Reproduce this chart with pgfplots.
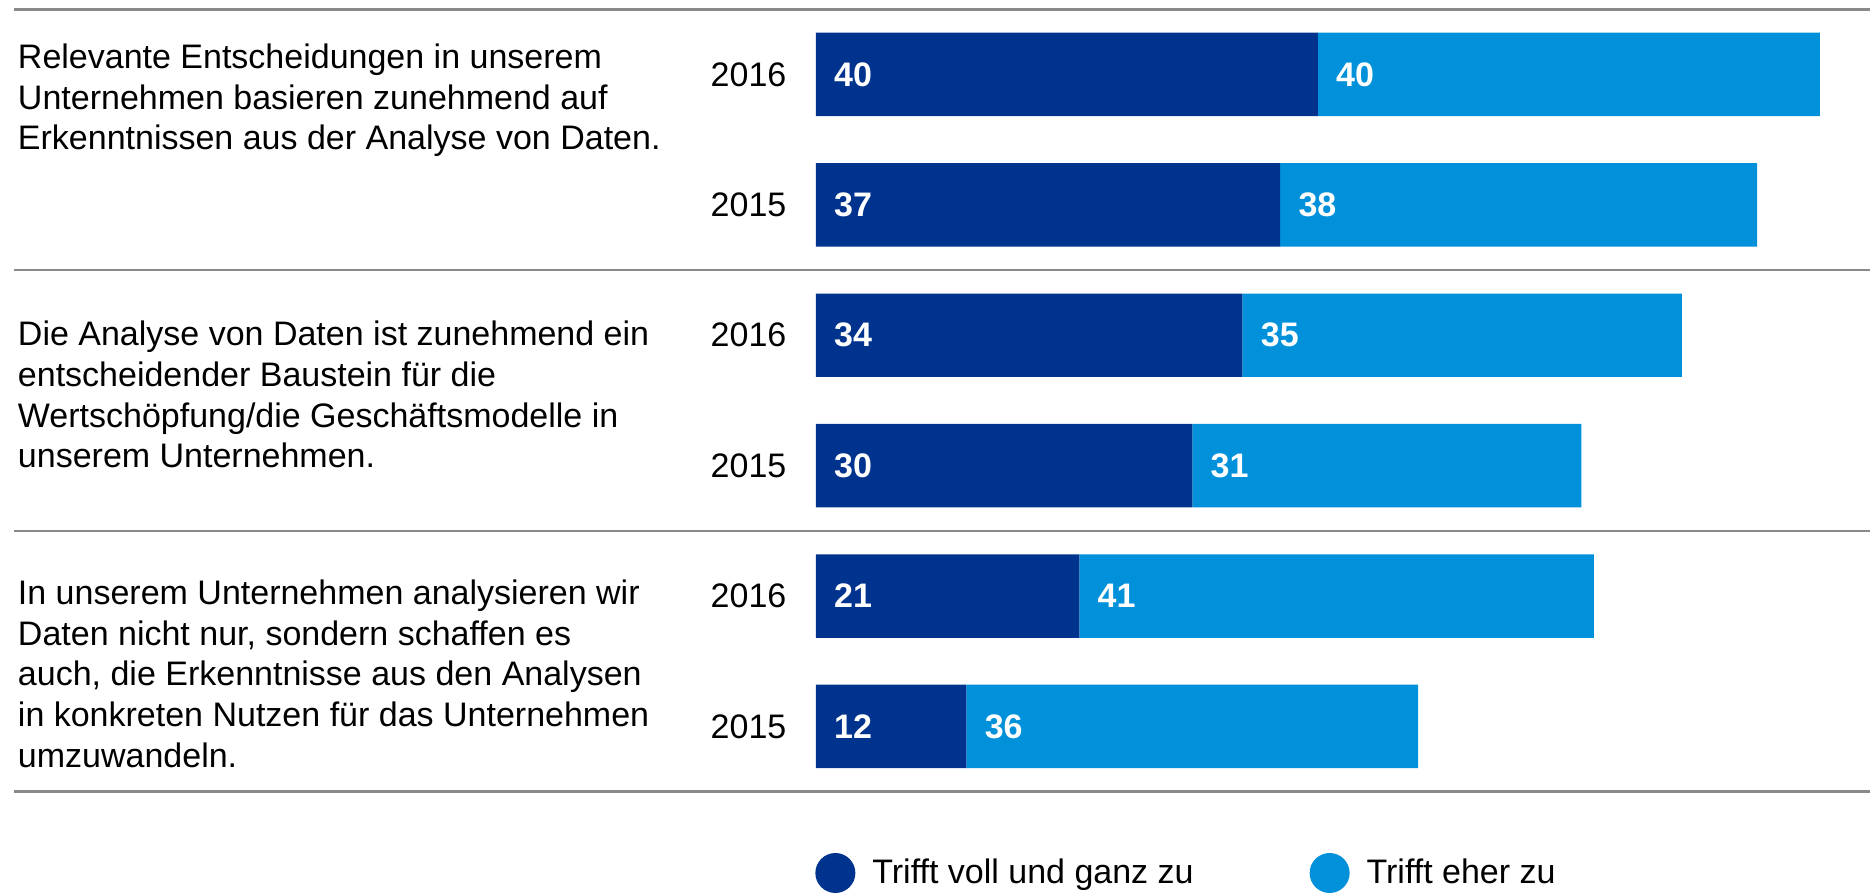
\documentclass[border=0pt]{standalone}
\usepackage{fontspec}
\setmainfont{Liberation Sans}
\usepackage{pgfplots}
\pgfplotsset{compat=1.18}
\definecolor{dkblue}{HTML}{00338D}
\definecolor{ltblue}{HTML}{0091DA}
\definecolor{sepgray}{HTML}{898989}
\tikzset{
  sep/.style={sepgray, line width=1.3pt},
  yr/.style={anchor=east, inner sep=0pt, xshift=-14.5pt},
  val/.style={anchor=west, inner sep=0pt, xshift=9pt, text=white, font=\fontsize{17}{20.3}\selectfont\bfseries},
  cat/.style={anchor=west, align=left, inner sep=0pt},
}
\begin{document}
\begin{tikzpicture}[font=\fontsize{17}{20.3}\selectfont]
\begin{axis}[
  name=ax,
  scale only axis,
  width=935pt, height=447pt,
  xmin=-65, xmax=84,
  ymin=-0.571, ymax=6.285,
  y dir=reverse,
  hide axis,
  clip=false,
  xbar stacked,
  bar width=0.64,
  legend columns=2,
  legend style={at={(0.4358,0.0235)}, anchor=west, draw=none, fill=none,
    inner sep=0pt, font=\fontsize{17}{20.3}\selectfont,
    nodes={inner sep=0pt},
    /tikz/column 1/.style={column sep=8.5pt},
    /tikz/column 2/.style={column sep=58pt},
    /tikz/column 3/.style={column sep=8.5pt}},
  legend image code/.code={\fill[#1] (10pt,0pt) circle (10pt);},
]
\addplot[fill=dkblue, draw=none] coordinates {(40,0) (37,1) (34,2) (30,3) (21,4) (12,5)};
\addlegendentry{Trifft voll und ganz zu}
\addplot[fill=ltblue, draw=none] coordinates {(40,0) (38,1) (35,2) (31,3) (41,4) (36,5)};
\addlegendentry{Trifft eher zu}

% separators
\draw[sep] (axis cs:-63.9,-0.5) -- (axis cs:84,-0.5);
\draw[sep] (axis cs:-63.9,1.5) -- (axis cs:84,1.5);
\draw[sep] (axis cs:-63.9,3.5) -- (axis cs:84,3.5);
\draw[sep] (axis cs:-63.9,5.5) -- (axis cs:84,5.5);
% year labels
\node[yr] at (axis cs:0,0) {2016};
\node[yr] at (axis cs:0,1) {2015};
\node[yr] at (axis cs:0,2) {2016};
\node[yr] at (axis cs:0,3) {2015};
\node[yr] at (axis cs:0,4) {2016};
\node[yr] at (axis cs:0,5) {2015};
% value label anchors
\coordinate (a0) at (axis cs:0,0);  \coordinate (b0) at (axis cs:40,0);
\coordinate (a1) at (axis cs:0,1);  \coordinate (b1) at (axis cs:37,1);
\coordinate (a2) at (axis cs:0,2);  \coordinate (b2) at (axis cs:34,2);
\coordinate (a3) at (axis cs:0,3);  \coordinate (b3) at (axis cs:30,3);
\coordinate (a4) at (axis cs:0,4);  \coordinate (b4) at (axis cs:21,4);
\coordinate (a5) at (axis cs:0,5);  \coordinate (b5) at (axis cs:12,5);
% category texts
\node[cat] at (axis cs:-63.6,0.2)
  {Relevante Entscheidungen in unserem\\Unternehmen basieren zunehmend auf\\Erkenntnissen aus der Analyse von Daten.};
\node[cat] at (axis cs:-63.6,2.456)
  {Die Analyse von Daten ist zunehmend ein\\entscheidender Baustein für die\\Wertschöpfung/die Geschäftsmodelle in\\unserem Unternehmen.};
\node[cat] at (axis cs:-63.6,4.596)
  {In unserem Unternehmen analysieren wir\\Daten nicht nur, sondern schaffen es\\auch, die Erkenntnisse aus den Analysen\\in konkreten Nutzen für das Unternehmen\\umzuwandeln.};
\end{axis}
\node[val] at (a0) {40}; \node[val] at (b0) {40};
\node[val] at (a1) {37}; \node[val] at (b1) {38};
\node[val] at (a2) {34}; \node[val] at (b2) {35};
\node[val] at (a3) {30}; \node[val] at (b3) {31};
\node[val] at (a4) {21}; \node[val] at (b4) {41};
\node[val] at (a5) {12}; \node[val] at (b5) {36};
\pgfresetboundingbox
\path[use as bounding box] (ax.south west) rectangle (ax.north east);
\end{tikzpicture}
\end{document}
